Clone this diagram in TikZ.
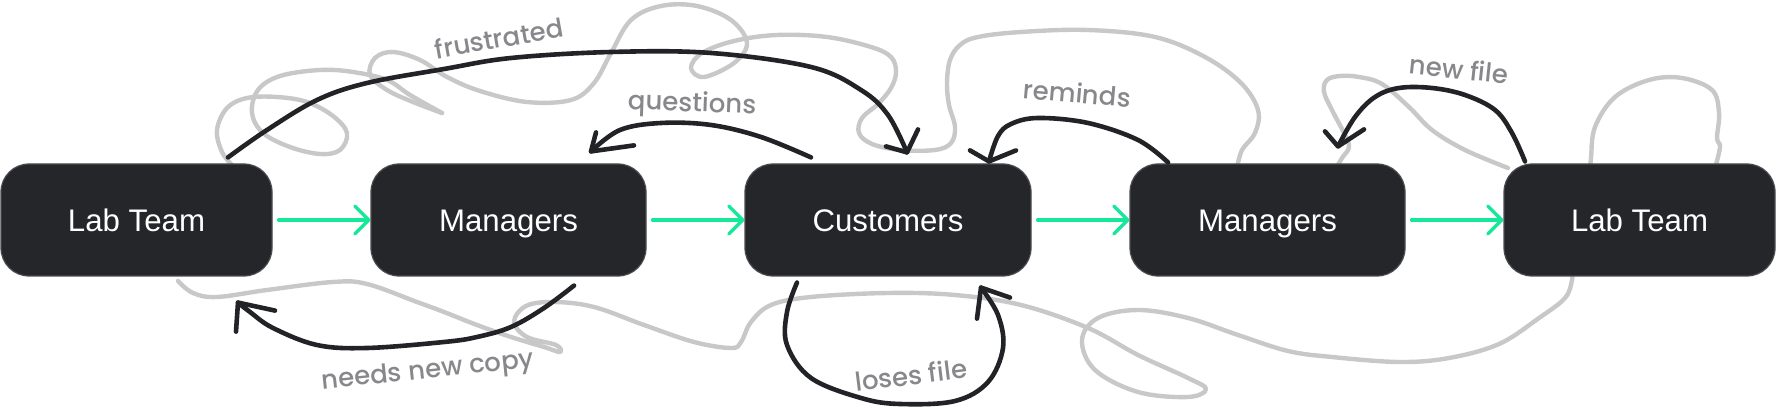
\documentclass[tikz,border=0pt]{standalone}
\usepackage{fontspec}
\setmainfont{Liberation Sans}
\newfontfamily\handfont{Poppins}[UprightFont=* Medium]
\usetikzlibrary{arrows.meta,calc}
\definecolor{boxfill}{HTML}{25262A}
\definecolor{boxline}{HTML}{4A4B50}
\definecolor{flowgreen}{HTML}{16E89A}
\definecolor{ink}{HTML}{222326}
\definecolor{scrib}{HTML}{C8C8C8}
\definecolor{lblgray}{HTML}{88888C}
\begin{document}
\begin{tikzpicture}[x=0.5pt,y=-0.5pt,
  stage/.style={draw=boxline, line width=0.6pt, fill=boxfill, rounded corners=14pt,
    minimum width=#1, minimum height=56pt, inner sep=0pt, text=white,
    text height=12pt, text depth=0pt,
    font=\fontsize{15.6}{18}\selectfont},
  stage/.default=137.5pt,
  flowarrow/.style={draw=flowgreen, line width=1.7pt, line cap=round,
    -{Straight Barb[round,length=7pt,width=14pt]}, shorten <=3pt},
  inkline/.style={draw=ink, line width=2.3pt, line cap=round, line join=round},
  scribble/.style={draw=scrib, line width=2.2pt, line cap=round, line join=round},
  lab/.style={text=lblgray, font=\handfont\fontsize{13}{16}\selectfont, inner sep=0pt}]
\useasboundingbox (0,0) rectangle (1776,410);

% background scribbles
\draw[scribble] plot[smooth, tension=0.6] coordinates {(233,166) (222,152) (217,130) (227,108) (247,98) (277,97) (307,102) (333,116) (347,133) (340,150) (320,154) (290,147) (263,133) (252,113) (258,90) (280,76) (320,70) (353,72) (387,80) (410,95) (442,113)};
\draw[scribble] plot[smooth, tension=0.6] coordinates {(442,113) (413,102) (387,90) (370,75) (375,58) (393,52) (420,60) (447,77) (480,91) (527,102) (571,100) (594,83) (611,53) (631,20) (661,6) (697,6) (731,20) (747,43) (734,63) (704,77) (691,68) (702,53) (734,41) (777,35) (827,37) (871,47) (891,57) (896,72) (891,88) (878,104) (862,118) (859,133) (872,144) (900,150) (935,150) (951,143) (955,127) (949,105) (947,83) (950,60) (960,45) (978,37) (1021,32) (1088,30) (1155,37) (1205,57) (1241,83) (1258,110) (1255,133) (1242,150) (1237,168)};
\draw[scribble] plot[smooth, tension=0.6] coordinates {(1335,170) (1342,158) (1349,147) (1344,133) (1333,112) (1324,92) (1327,80) (1340,76) (1359,77) (1382,84) (1409,107) (1432,130) (1465,150) (1508,168)};
\draw[scribble] plot[smooth, tension=0.6] coordinates {(1590,170) (1591,158) (1595,127) (1615,97) (1649,80) (1682,78) (1712,90) (1719,113) (1717,138) (1720,147) (1715,168)};
\draw[scribble] plot[smooth, tension=0.6] coordinates {(178,281) (193,293) (217,297) (267,290) (333,282) (367,284) (417,302) (444,312) (477,325) (511,337) (544,347) (560,352) (556,345) (527,337) (514,322) (526,306) (554,302) (594,307) (644,325) (694,342) (731,348) (741,342) (751,322) (771,305) (811,297) (888,293) (955,295) (1021,305) (1088,328) (1138,355) (1188,378) (1206,389) (1188,397) (1138,392) (1095,370) (1082,340) (1098,318) (1138,310) (1188,318) (1238,335) (1288,351) (1332,357) (1399,362) (1449,358) (1499,344) (1539,318) (1565,298) (1572,280) (1572,270)};

% boxes
\node[stage=135.5pt] (lab1) at (136.5,220) {Lab Team};
\node[stage=137.5pt] (mgr1) at (508.5,220) {Managers};
\node[stage=143pt]   (cust) at (888,220) {Customers};
\node[stage=137.5pt] (mgr2) at (1267.5,220) {Managers};
\node[stage=135.5pt] (lab2) at (1639.5,220) {Lab Team};

% main flow
\draw[flowarrow] (lab1.east) -- (mgr1.west);
\draw[flowarrow] (mgr1.east) -- (cust.west);
\draw[flowarrow] (cust.east) -- (mgr2.west);
\draw[flowarrow] (mgr2.east) -- (lab2.west);

% frustrated
\coordinate (f0) at ($(lab1.north)+(91.5,-6)$);
\coordinate (f1) at ($(cust.north)+(19,-11)$);
\draw[inkline] plot[smooth, tension=0.6] coordinates {(f0) (267,130) (317,100) (367,83) (444,69) (511,58) (611,52) (711,53) (811,67) (861,90) (888,115) (f1)};
\draw[inkline] ($(f1)+(-21,-6)$) -- (f1) -- ($(f1)+(11,-23)$);

% questions
\coordinate (q0) at ($(cust.north)+(-77,-6)$);
\coordinate (q1) at ($(mgr1.north)+(82.5,-12)$);
\draw[inkline] plot[smooth, tension=0.6] coordinates {(q0) (761,137) (711,125) (661,123) (620,130) (q1)};
\draw[inkline] ($(q1)+(43,-6)$) -- (q1) -- ($(q1)+(5,-19)$);

% reminds
\coordinate (r0) at ($(mgr2.north)+(-99.5,-1)$);
\coordinate (r1) at ($(cust.north)+(101,-2)$);
\draw[inkline] plot[smooth, tension=0.6] coordinates {(r0) (1138,140) (1088,123) (1038,118) (1011,124) (998,136) (r1)};
\draw[inkline] ($(r1)+(-19,-11)$) -- (r1) -- ($(r1)+(27,-11)$);

% new file
\coordinate (n0) at ($(lab2.north)+(-114.5,-2)$);
\coordinate (n1) at ($(mgr2.north)+(70.5,-17)$);
\draw[inkline] plot[smooth, tension=0.6] coordinates {(n0) (1512,133) (1495,110) (1465,95) (1432,88) (1399,88) (1375,97) (1355,117) (n1)};
\draw[inkline] ($(n1)+(-13,-15)$) -- (n1) -- ($(n1)+(26,-17)$);

% needs new copy
\coordinate (c0) at ($(mgr1.south)+(65.5,9)$);
\coordinate (c1) at ($(lab1.south)+(101.5,26)$);
\draw[inkline] plot[smooth, tension=0.6] coordinates {(c0) (544,308) (511,327) (477,337) (444,342) (367,348) (317,345) (273,328) (250,312) (c1)};
\draw[inkline] ($(c1)+(37,8)$) -- (c1) -- ($(c1)+(-2,29)$);

% loses file
\coordinate (l0) at ($(cust.south)+(-91,6)$);
\coordinate (l1) at ($(cust.south)+(93,11)$);
\draw[inkline] plot[smooth, tension=0.6] coordinates {(l0) (787,312) (787,345) (811,378) (861,398) (900,404) (955,401) (988,382) (1003,348) (998,315) (l1)};
\draw[inkline] ($(l1)+(29,10)$) -- (l1) -- ($(l1)+(-4,31)$);

% labels
\node[lab, rotate=10] (tfr) at (499,38) {frustrated};
\node[lab, rotate=-2] (tqu) at (692,105) {questions};
\node[lab, rotate=-5] (tre) at (1077,93) {reminds};
\node[lab, rotate=-6] (tnf) at (1459,69) {new file};
\node[lab, rotate=6] (tnc) at (428,372) {needs new copy};
\node[lab, rotate=7] (tlf) at (911,375) {loses file};
\end{tikzpicture}
\end{document}
